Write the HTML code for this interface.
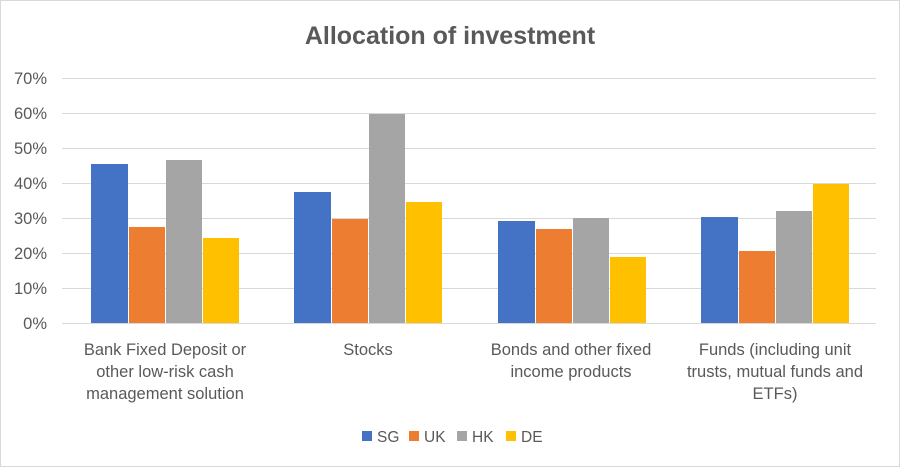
<!DOCTYPE html>
<html><head><style>
body{margin:0;background:#fff;}
svg text{font-family:"Liberation Sans",sans-serif;fill:#595959;}
</style></head><body>
<svg width="900" height="467" xmlns="http://www.w3.org/2000/svg">
<rect x="0.5" y="0.5" width="899" height="466" fill="#fff" stroke="#d9d9d9"/>
<text x="450" y="44" font-size="25" font-weight="bold" text-anchor="middle">Allocation of investment</text>
<g stroke="#d9d9d9" stroke-width="1">
<line x1="62" x2="876" y1="78.5" y2="78.5"/><line x1="62" x2="876" y1="113.5" y2="113.5"/>
<line x1="62" x2="876" y1="148.5" y2="148.5"/><line x1="62" x2="876" y1="183.5" y2="183.5"/>
<line x1="62" x2="876" y1="218.5" y2="218.5"/><line x1="62" x2="876" y1="253.5" y2="253.5"/>
<line x1="62" x2="876" y1="288.5" y2="288.5"/><line x1="62" x2="876" y1="323.5" y2="323.5"/>
</g>
<g font-size="16.5" text-anchor="end">
<text x="47" y="84">70%</text><text x="47" y="119">60%</text><text x="47" y="154">50%</text>
<text x="47" y="189">40%</text><text x="47" y="224">30%</text><text x="47" y="259">20%</text>
<text x="47" y="294">10%</text><text x="47" y="329">0%</text>
</g>
<g>
<rect x="91" y="164" width="37" height="159" fill="#4472C4"/>
<rect x="129" y="227" width="36" height="96" fill="#ED7D31"/>
<rect x="166" y="160" width="36" height="163" fill="#A5A5A5"/>
<rect x="203" y="238" width="36" height="85" fill="#FFC000"/>
<rect x="294" y="192" width="37" height="131" fill="#4472C4"/>
<rect x="332" y="219" width="36" height="104" fill="#ED7D31"/>
<rect x="369" y="114" width="36" height="209" fill="#A5A5A5"/>
<rect x="406" y="202" width="36" height="121" fill="#FFC000"/>
<rect x="498" y="221" width="37" height="102" fill="#4472C4"/>
<rect x="536" y="229" width="36" height="94" fill="#ED7D31"/>
<rect x="573" y="218" width="36" height="105" fill="#A5A5A5"/>
<rect x="610" y="257" width="36" height="66" fill="#FFC000"/>
<rect x="701" y="217" width="37" height="106" fill="#4472C4"/>
<rect x="739" y="251" width="36" height="72" fill="#ED7D31"/>
<rect x="776" y="211" width="36" height="112" fill="#A5A5A5"/>
<rect x="813" y="184" width="36" height="139" fill="#FFC000"/>
</g>
<g font-size="16.5" text-anchor="middle">
<text x="165" y="355">Bank Fixed Deposit or</text>
<text x="165" y="377">other low-risk cash</text>
<text x="165" y="399">management solution</text>
<text x="368" y="355">Stocks</text>
<text x="571" y="355">Bonds and other fixed</text>
<text x="571" y="377">income products</text>
<text x="775" y="355">Funds (including unit</text>
<text x="775" y="377">trusts, mutual funds and</text>
<text x="775" y="399">ETFs)</text>
</g>
<g font-size="15.5">
<rect x="362" y="431" width="10" height="10" fill="#4472C4"/><text x="377" y="442">SG</text>
<rect x="409" y="431" width="10" height="10" fill="#ED7D31"/><text x="424" y="442">UK</text>
<rect x="457" y="431" width="10" height="10" fill="#A5A5A5"/><text x="472" y="442">HK</text>
<rect x="506" y="431" width="10" height="10" fill="#FFC000"/><text x="521" y="442">DE</text>
</g>
</svg>
</body></html>
